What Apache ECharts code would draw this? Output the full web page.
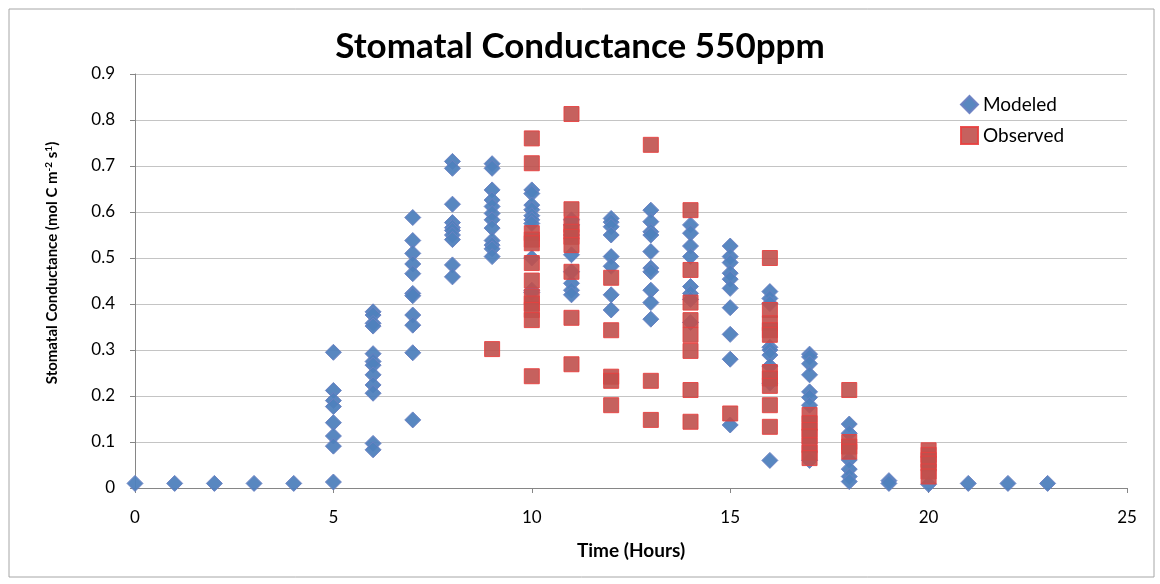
<!DOCTYPE html>
<html>
<head>
<meta charset="utf-8">
<script src="https://cdn.jsdelivr.net/npm/echarts@6/dist/echarts.min.js"></script>
<style>
    html, body { margin: 0; padding: 0; background: #fff; }
    #chart { width: 1160px; height: 584px; }
</style>
</head>
<body>
<div id="chart"></div>
<script>
    // values, index = hour of the day
    const modeledByHour = [
        [0.01], [0.01], [0.01], [0.01], [0.01],
        [0.295, 0.212, 0.19, 0.177, 0.142, 0.113, 0.091, 0.013],
        [0.383, 0.376, 0.358, 0.352, 0.292, 0.275, 0.267, 0.246, 0.224, 0.206, 0.097, 0.083],
        [0.588, 0.538, 0.51, 0.487, 0.466, 0.423, 0.418, 0.376, 0.354, 0.294, 0.148],
        [0.71, 0.695, 0.617, 0.577, 0.566, 0.56, 0.55, 0.54, 0.485, 0.459],
        [0.705, 0.695, 0.648, 0.626, 0.612, 0.597, 0.583, 0.565, 0.538, 0.528, 0.52, 0.503],
        [0.648, 0.64, 0.615, 0.605, 0.592, 0.583, 0.575, 0.5, 0.43, 0.425],
        [0.583, 0.572, 0.55, 0.507, 0.47, 0.445, 0.43, 0.42],
        [0.586, 0.578, 0.568, 0.55, 0.503, 0.482, 0.42, 0.387],
        [0.604, 0.579, 0.557, 0.55, 0.514, 0.478, 0.47, 0.43, 0.403, 0.367],
        [0.572, 0.554, 0.526, 0.503, 0.438, 0.423, 0.41, 0.36],
        [0.526, 0.503, 0.49, 0.467, 0.454, 0.434, 0.392, 0.334, 0.28, 0.137],
        [0.427, 0.412, 0.401, 0.306, 0.3, 0.289, 0.265, 0.228, 0.06],
        [0.291, 0.285, 0.27, 0.246, 0.209, 0.197, 0.18, 0.06],
        [0.139, 0.119, 0.061, 0.041, 0.025, 0.014],
        [0.016, 0.01],
        [0.008],
        [0.01], [0.01], [0.01]
    ];
    const observedByHour = [
        [], [], [], [], [], [], [], [], [],
        [0.302],
        [0.76, 0.706, 0.554, 0.54, 0.532, 0.489, 0.451, 0.416, 0.401, 0.387, 0.365, 0.243],
        [0.813, 0.606, 0.572, 0.557, 0.546, 0.528, 0.47, 0.37, 0.269],
        [0.457, 0.343, 0.242, 0.233, 0.18],
        [0.746, 0.233, 0.148],
        [0.604, 0.474, 0.403, 0.365, 0.333, 0.298, 0.213, 0.144],
        [0.162],
        [0.5, 0.387, 0.358, 0.343, 0.333, 0.252, 0.238, 0.222, 0.18, 0.133],
        [0.159, 0.141, 0.126, 0.112, 0.093, 0.077, 0.065],
        [0.213, 0.1, 0.09, 0.079],
        [],
        [0.082, 0.072, 0.061, 0.053, 0.036, 0.025]
    ];
    const seriesNames = ['Modeled', 'Observed'];

    // turn the per-hour lists into [hour, value] pairs
    function toPairs(byHour) {
        let out = [];
        byHour.forEach((vals, h) => vals.forEach(v => out.push([h, v])));
        return out;
    }

    const fontFamily = 'Lato, "Open Sans", sans-serif';
    let myChart = echarts.init(document.getElementById('chart'));
    let option = {
        backgroundColor: '#fff',
        animation: false,
        title: {
            text: 'Stomatal Conductance 550ppm',
            left: 'center',
            top: 24,
            textStyle: { fontFamily: fontFamily, fontSize: 35, fontWeight: 'bold', color: '#000' }
        },
        graphic: [{
            type: 'rect',
            shape: { x: 9, y: 9, width: 1145, height: 568 },
            style: { fill: 'none', stroke: '#a6a6a6', lineWidth: 1 },
            silent: true,
            z: -1
        }],
        legend: {
            orient: 'vertical',
            left: 955,
            top: 90,
            itemGap: 12,
            itemWidth: 17,
            itemHeight: 17,
            textStyle: { fontFamily: fontFamily, fontSize: 19, color: '#000' },
            data: [
                { name: 'Modeled', icon: 'diamond' },
                { name: 'Observed', icon: 'rect' }
            ]
        },
        grid: { left: 135, right: 33, top: 74, bottom: 96 },
        xAxis: {
            type: 'value',
            min: 0, max: 25, interval: 5,
            name: 'Time (Hours)',
            nameLocation: 'middle',
            nameGap: 53,
            nameTextStyle: { fontFamily: fontFamily, fontSize: 19, fontWeight: 'bold', color: '#000' },
            axisLine: { onZero: false, lineStyle: { color: '#868686' } },
            axisTick: { show: true, length: 5, lineStyle: { color: '#868686' } },
            axisLabel: { fontFamily: fontFamily, fontSize: 17, color: '#000', margin: 21 },
            splitLine: { show: false }
        },
        yAxis: {
            type: 'value',
            min: 0, max: 0.9, interval: 0.1,
            name: '{a|Stomatal Conductance (mol C m}{s|-2}{a| s}{s|1}{a|)}',
            nameLocation: 'middle',
            nameGap: 75,
            nameRotate: 90,
            nameTextStyle: {
                padding: [0, 0, 0, 36],
                rich: {
                    a: { fontFamily: fontFamily, fontSize: 15, fontWeight: 'bold', color: '#000' },
                    s: { fontFamily: fontFamily, fontSize: 10, fontWeight: 'bold', color: '#000', verticalAlign: 'top', padding: [0, 0, 6, 0] }
                }
            },
            axisLine: { show: true, lineStyle: { color: '#868686' } },
            axisTick: { show: true, length: 5, lineStyle: { color: '#868686' } },
            axisLabel: {
                fontFamily: fontFamily, fontSize: 17, color: '#000', margin: 20,
                formatter: v => v === 0 ? '0' : v.toFixed(1)
            },
            splitLine: { lineStyle: { color: '#c4c4c4', width: 1.2 } }
        },
        series: [
            {
                name: seriesNames[0],
                type: 'scatter',
                symbol: 'diamond',
                symbolSize: 16,
                itemStyle: { color: '#4f81bd', borderColor: '#6a7fc2', borderWidth: 1, opacity: 0.95 },
                data: toPairs(modeledByHour)
            },
            {
                name: seriesNames[1],
                type: 'scatter',
                symbol: 'rect',
                symbolSize: 15,
                itemStyle: { color: '#c0504d', borderColor: '#e8403f', borderWidth: 1, opacity: 0.9 },
                data: toPairs(observedByHour)
            }
        ]
    };
    myChart.setOption(option);
</script>
</body>
</html>
